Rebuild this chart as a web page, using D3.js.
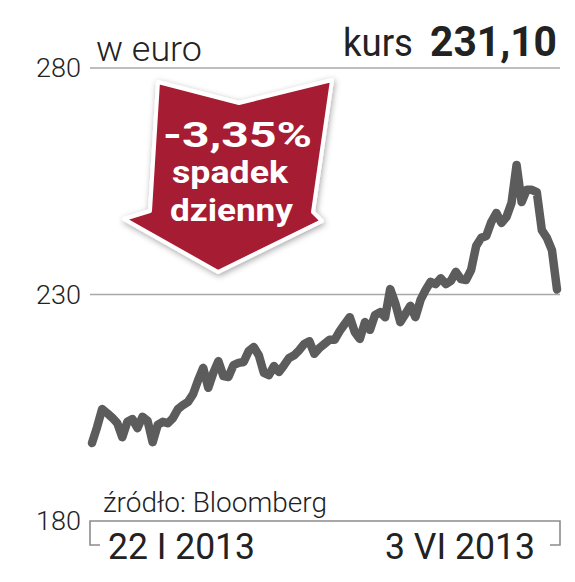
<!DOCTYPE html>
<html>
<head>
<meta charset="utf-8">
<script src="https://cdn.jsdelivr.net/npm/d3@7/dist/d3.min.js"></script>
<style>
  html, body { margin: 0; padding: 0; background: #fff; }
  svg { display: block; }
</style>
</head>
<body>
<svg id="chart" width="575" height="582"></svg>
<script>
// ---- data ----
const unit = "w euro";
const priceLabel = "kurs";
const lastPrice = "231,10";
const changeLabel = ["-3,35%", "spadek", "dzienny"];
const source = "źródło: Bloomberg";
const yTicks = [180, 230, 280];
const xTickLabels = ["22 I 2013", "3 VI 2013"];
// daily closing prices, 22 I 2013 – 3 VI 2013 (EUR)
const prices = [
  197.2, 200.7, 204.7, 203.8, 202.8, 201.6, 198.5, 201.9, 202.5, 200.5,
  203.0, 202.1, 197.4, 201.2, 201.9, 201.6, 202.7, 204.7, 205.6, 206.3,
  208.0, 211.1, 213.8, 209.4, 212.7, 215.3, 212.0, 211.8, 214.4, 214.9,
  215.1, 217.5, 218.4, 216.6, 212.7, 212.2, 214.2, 212.9, 214.4, 216.0,
  216.6, 217.7, 219.1, 219.7, 216.9, 218.2, 219.1, 220.0, 220.0, 221.9,
  223.5, 225.0, 221.7, 220.2, 223.9, 222.2, 225.5, 226.1, 225.0, 231.2,
  228.1, 223.9, 225.7, 227.5, 225.0, 228.8, 231.0, 232.8, 232.3, 233.6,
  232.3, 233.0, 235.0, 233.4, 233.2, 235.4, 240.7, 242.5, 242.9, 246.0,
  248.0, 245.8, 247.1, 250.2, 258.6, 250.4, 253.1, 253.1, 252.6, 244.2,
  242.5, 239.8, 231.1
];

// ---- chart ----
const svg = d3.select("#chart");
const font = "Roboto, 'Noto Sans', sans-serif";

const y = d3.scaleLinear().domain([180, 280]).range([521, 68]);
const x = d3.scaleLinear().domain([0, prices.length - 1]).range([92, 557]);
const gridX0 = 90, gridX1 = 560;

const defs = svg.append("defs");
const f = defs.append("filter").attr("id", "shadow")
  .attr("x", "-20%").attr("y", "-20%").attr("width", "140%").attr("height", "140%");
f.append("feDropShadow").attr("dx", 1).attr("dy", 2).attr("stdDeviation", 3)
  .attr("flood-color", "#000").attr("flood-opacity", 0.35);

// gridlines (upper two)
svg.selectAll("line.grid").data(yTicks.filter(d => d !== 180)).enter()
  .append("line").attr("class", "grid")
  .attr("x1", gridX0).attr("x2", gridX1)
  .attr("y1", d => y(d)).attr("y2", d => y(d))
  .attr("stroke", "#a8a8a8").attr("stroke-width", 1.5);

// bottom bracket axis
const yb = y(180);
svg.append("path")
  .attr("d", `M${gridX0 + 10},${yb + 24} H${gridX0} V${yb} H${gridX1} V${yb + 24} H${gridX1 - 10}`)
  .attr("fill", "none").attr("stroke", "#8c8c8c").attr("stroke-width", 1.6);

// y tick labels
svg.selectAll("text.ytick").data(yTicks).enter()
  .append("text").attr("class", "ytick")
  .attr("x", 81).attr("y", d => y(d))
  .attr("dy", "0.36em")
  .attr("text-anchor", "end")
  .attr("font-family", font).attr("font-weight", 300)
  .attr("font-size", 26).attr("fill", "#222")
  .attr("textLength", 45).attr("lengthAdjust", "spacingAndGlyphs")
  .text(d => d);

// price line
svg.append("path")
  .datum(prices)
  .attr("d", d3.line().x((d, i) => x(i)).y(d => y(d)))
  .attr("fill", "none")
  .attr("stroke", "#5c5c5c")
  .attr("stroke-width", 8.5)
  .attr("stroke-linejoin", "round")
  .attr("stroke-linecap", "round");

// header
svg.append("text").attr("x", 96).attr("y", 61)
  .attr("font-family", font).attr("font-weight", 300)
  .attr("font-size", 35).attr("fill", "#222")
  .attr("textLength", 106).attr("lengthAdjust", "spacingAndGlyphs")
  .text(unit);
svg.append("text").attr("x", 343).attr("y", 56)
  .attr("font-family", font).attr("font-weight", 400)
  .attr("font-size", 38).attr("fill", "#222")
  .attr("textLength", 70).attr("lengthAdjust", "spacingAndGlyphs")
  .text(priceLabel);
svg.append("text").attr("x", 430).attr("y", 56)
  .attr("font-family", font).attr("font-weight", 700)
  .attr("font-size", 42).attr("fill", "#222")
  .attr("textLength", 127).attr("lengthAdjust", "spacingAndGlyphs")
  .text(lastPrice);

// arrow badge
const arrowPts = [[158, 82], [239, 103], [332, 80], [313, 212], [322, 221], [218, 272], [124, 219], [150, 211]];
svg.append("path")
  .attr("d", d3.line()(arrowPts) + "Z")
  .attr("fill", "#a61b31")
  .attr("stroke", "#fff").attr("stroke-width", 4)
  .attr("stroke-linejoin", "round")
  .attr("filter", "url(#shadow)");

const arrowText = [
  { t: changeLabel[0], x: 163, y: 147, size: 35, w: 149 },
  { t: changeLabel[1], x: 172, y: 183, size: 31, w: 116 },
  { t: changeLabel[2], x: 170, y: 221, size: 32, w: 123 }
];
svg.selectAll("text.badge").data(arrowText).enter()
  .append("text").attr("class", "badge")
  .attr("x", d => d.x).attr("y", d => d.y)
  .attr("font-family", font).attr("font-weight", 700)
  .attr("font-size", d => d.size).attr("fill", "#fff")
  .attr("textLength", d => d.w).attr("lengthAdjust", "spacingAndGlyphs")
  .text(d => d.t);

// source
svg.append("text").attr("x", 103).attr("y", 512)
  .attr("font-family", font).attr("font-weight", 300)
  .attr("font-size", 27).attr("fill", "#222")
  .attr("textLength", 224).attr("lengthAdjust", "spacingAndGlyphs")
  .text(source);

// x tick labels
svg.append("text").attr("x", x(0) + 16).attr("y", 559)
  .attr("font-family", font).attr("font-weight", 400)
  .attr("font-size", 36).attr("fill", "#222")
  .attr("textLength", 147).attr("lengthAdjust", "spacingAndGlyphs")
  .text(xTickLabels[0]);
svg.append("text").attr("x", x(prices.length - 1) - 22).attr("y", 559)
  .attr("text-anchor", "end")
  .attr("font-family", font).attr("font-weight", 400)
  .attr("font-size", 36).attr("fill", "#222")
  .attr("textLength", 150).attr("lengthAdjust", "spacingAndGlyphs")
  .text(xTickLabels[1]);
</script>
</body>
</html>
